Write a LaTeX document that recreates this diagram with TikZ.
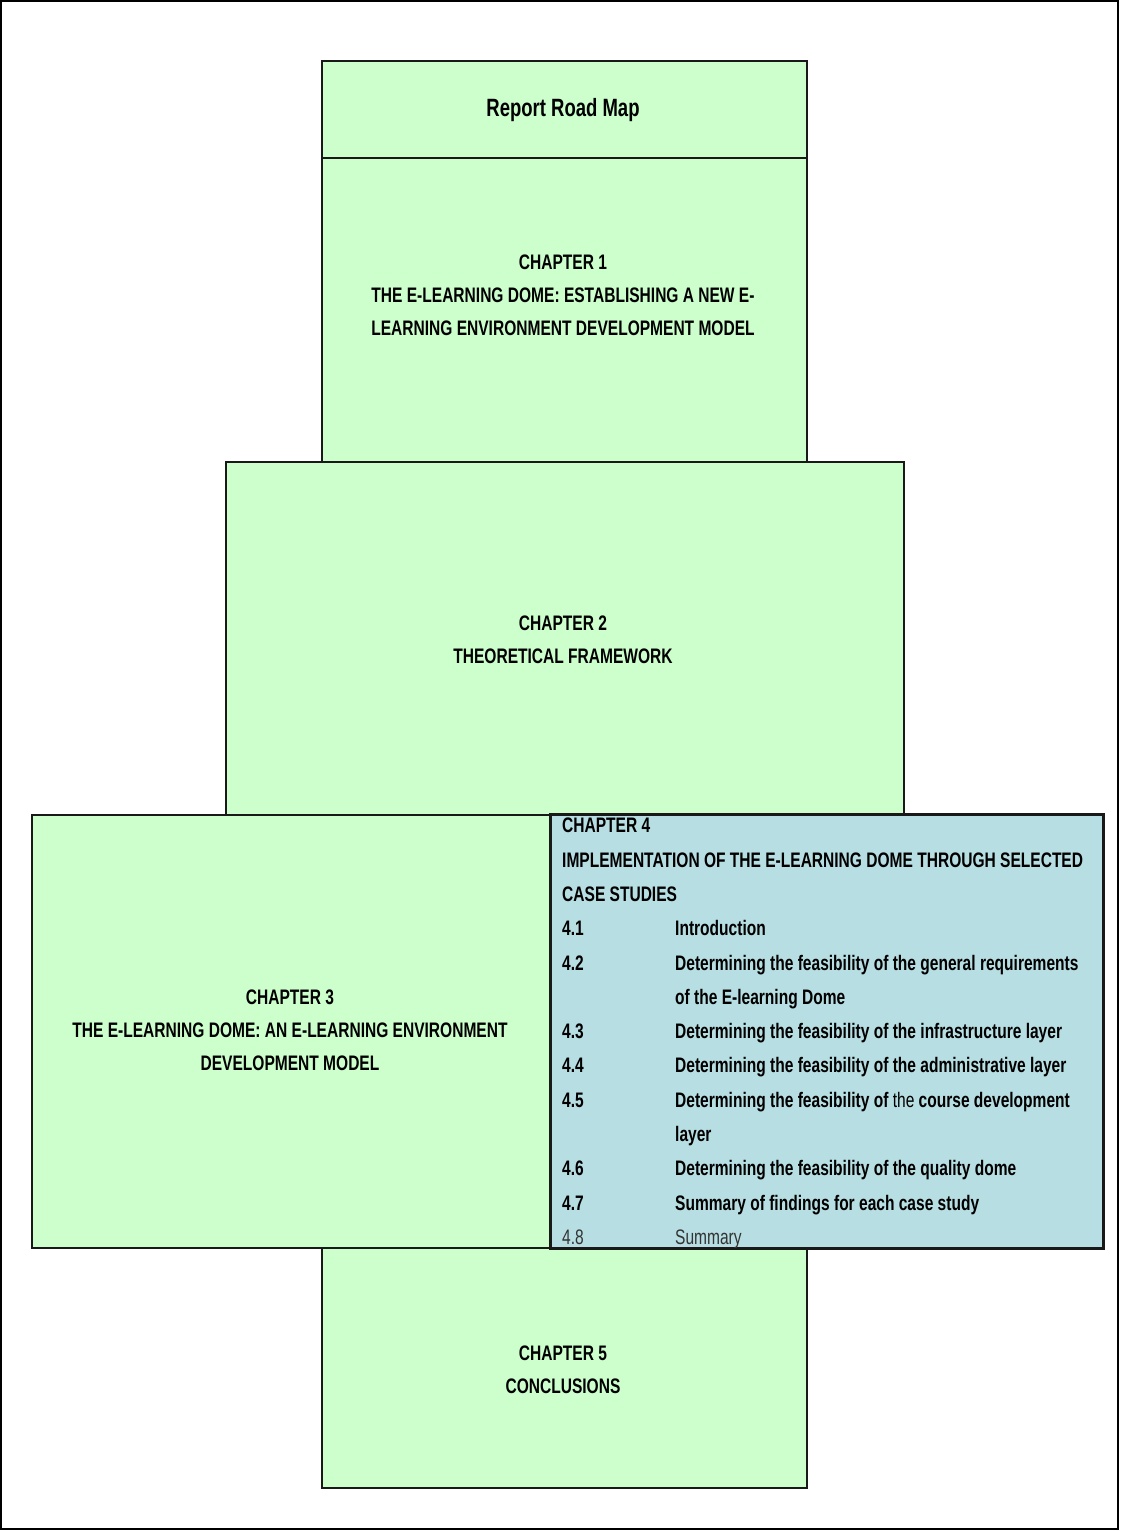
\documentclass[tikz,border=0pt]{standalone}
\usepackage{fontspec}
\setmainfont[FakeStretch=0.74]{Liberation Sans}
\definecolor{chgreen}{RGB}{204,255,204}
\definecolor{chblue}{RGB}{183,222,226}
\begin{document}
\begin{tikzpicture}[x=1pt,y=-1pt,
  box/.style={draw=black!90, line width=1.8pt, fill=chgreen, rectangle, anchor=north west, inner sep=0pt},
  lbl/.style={font=\bfseries\fontsize{21}{33}\selectfont, align=center, inner sep=0pt}]
\useasboundingbox (0,0) rectangle (1120,1531);
\draw[line width=2.2pt] (1,1) rectangle (1118,1529);
% boxes
\node[box, minimum width=485pt, minimum height=97pt] (title) at (321,60) {};
\node[box, minimum width=485pt, minimum height=304pt] (c1) at (321,157) {};
\node[box, minimum width=678pt, minimum height=353pt] (c2) at (225,461) {};
\node[box, minimum width=519pt, minimum height=433pt] (c3) at (31,814) {};
\node[box, fill=chblue, minimum width=552pt, minimum height=433pt] (c4) at (550,814) {};
\node[box, minimum width=485pt, minimum height=240pt] (c5) at (321,1247) {};
% labels
\node[lbl, font=\bfseries\fontsize{25}{28}\selectfont] (tt) at (563,110) {Report Road Map};
\node[lbl] (t1) at (563,295) {CHAPTER 1\\THE E-LEARNING DOME: ESTABLISHING A NEW E-\\LEARNING ENVIRONMENT DEVELOPMENT MODEL};
\node[lbl] (t2) at (563,640) {CHAPTER 2\\THEORETICAL FRAMEWORK};
\node[lbl] (t3) at (290,1030) {CHAPTER 3\\THE E-LEARNING DOME: AN E-LEARNING ENVIRONMENT\\DEVELOPMENT MODEL};
\node[lbl] (t5) at (563,1370) {CHAPTER 5\\CONCLUSIONS};
\begin{scope}
\clip (550,814) rectangle (1102,1247);
\node[anchor=north west, align=left, inner sep=0pt, font=\bfseries\fontsize{21}{34.3}\selectfont] (t4) at (562,818) {CHAPTER 4\\
IMPLEMENTATION OF THE E-LEARNING DOME THROUGH SELECTED\\
CASE STUDIES\\
\makebox[113pt][l]{4.1}Introduction\\
\makebox[113pt][l]{4.2}Determining the feasibility of the general requirements\\
\hspace*{113pt}of the E-learning Dome\\
\makebox[113pt][l]{4.3}Determining the feasibility of the infrastructure layer\\
\makebox[113pt][l]{4.4}Determining the feasibility of the administrative layer\\
\makebox[113pt][l]{4.5}Determining the feasibility of {\mdseries the} course development\\
\hspace*{113pt}layer\\
\makebox[113pt][l]{4.6}Determining the feasibility of the quality dome\\
\makebox[113pt][l]{4.7}Summary of findings for each case study\\
{\mdseries\color{black!80}\makebox[113pt][l]{4.8}Summary}};
\end{scope}
\draw[draw=black!90, line width=1.8pt] (c4.north west) rectangle (c4.south east);
\end{tikzpicture}
\end{document}
